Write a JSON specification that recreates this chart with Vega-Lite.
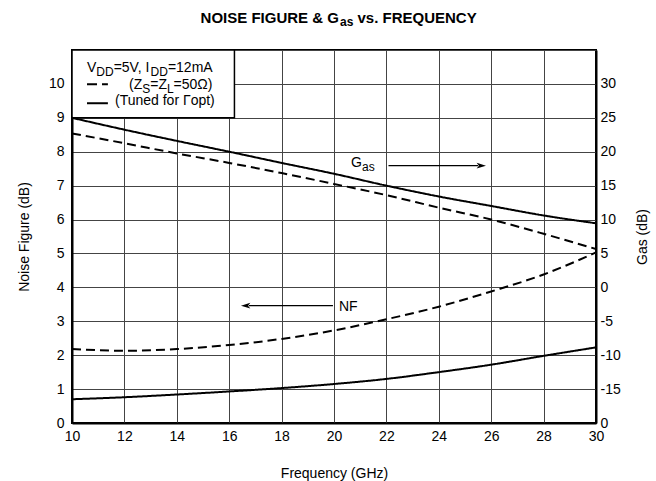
{
  "$schema": "https://vega.github.io/schema/vega-lite/v6.json",
  "width": 524,
  "height": 373,
  "autosize": {"type": "none"},
  "padding": {"left": 72, "top": 50, "right": 60, "bottom": 58},
  "config": {
    "font": "Liberation Sans",
    "view": {"stroke": "black", "strokeWidth": 2},
    "axis": {
      "labelFont": "Liberation Sans",
      "labelFontSize": 14,
      "labelColor": "black",
      "titleFont": "Liberation Sans",
      "titleFontSize": 14,
      "titleFontWeight": "normal",
      "titleColor": "black",
      "ticks": false,
      "domainColor": "black",
      "domainWidth": 2,
      "gridColor": "#444444",
      "gridWidth": 1,
      "gridOpacity": 1,
      "labelOverlap": false,
      "labelFlush": false,
      "labelBound": false
    }
  },
  "datasets": {
    "curves": [
      {"freq": 10, "value": 2.18, "curve": "NF", "cond": "50ohm"},
      {"freq": 12, "value": 2.13, "curve": "NF", "cond": "50ohm"},
      {"freq": 14, "value": 2.18, "curve": "NF", "cond": "50ohm"},
      {"freq": 16, "value": 2.3, "curve": "NF", "cond": "50ohm"},
      {"freq": 18, "value": 2.48, "curve": "NF", "cond": "50ohm"},
      {"freq": 20, "value": 2.73, "curve": "NF", "cond": "50ohm"},
      {"freq": 22, "value": 3.06, "curve": "NF", "cond": "50ohm"},
      {"freq": 24, "value": 3.43, "curve": "NF", "cond": "50ohm"},
      {"freq": 26, "value": 3.88, "curve": "NF", "cond": "50ohm"},
      {"freq": 28, "value": 4.38, "curve": "NF", "cond": "50ohm"},
      {"freq": 30, "value": 5.03, "curve": "NF", "cond": "50ohm"},
      {"freq": 10, "value": 0.7, "curve": "NF", "cond": "tuned"},
      {"freq": 12, "value": 0.76, "curve": "NF", "cond": "tuned"},
      {"freq": 14, "value": 0.84, "curve": "NF", "cond": "tuned"},
      {"freq": 16, "value": 0.93, "curve": "NF", "cond": "tuned"},
      {"freq": 18, "value": 1.03, "curve": "NF", "cond": "tuned"},
      {"freq": 20, "value": 1.15, "curve": "NF", "cond": "tuned"},
      {"freq": 22, "value": 1.3, "curve": "NF", "cond": "tuned"},
      {"freq": 24, "value": 1.5, "curve": "NF", "cond": "tuned"},
      {"freq": 26, "value": 1.72, "curve": "NF", "cond": "tuned"},
      {"freq": 28, "value": 1.98, "curve": "NF", "cond": "tuned"},
      {"freq": 30, "value": 2.23, "curve": "NF", "cond": "tuned"},
      {"freq": 10, "value": 25, "curve": "Gas", "cond": "tuned"},
      {"freq": 12, "value": 23.25, "curve": "Gas", "cond": "tuned"},
      {"freq": 14, "value": 21.6, "curve": "Gas", "cond": "tuned"},
      {"freq": 16, "value": 20, "curve": "Gas", "cond": "tuned"},
      {"freq": 18, "value": 18.35, "curve": "Gas", "cond": "tuned"},
      {"freq": 20, "value": 16.75, "curve": "Gas", "cond": "tuned"},
      {"freq": 22, "value": 15, "curve": "Gas", "cond": "tuned"},
      {"freq": 24, "value": 13.4, "curve": "Gas", "cond": "tuned"},
      {"freq": 26, "value": 12, "curve": "Gas", "cond": "tuned"},
      {"freq": 28, "value": 10.6, "curve": "Gas", "cond": "tuned"},
      {"freq": 30, "value": 9.45, "curve": "Gas", "cond": "tuned"},
      {"freq": 10, "value": 22.7, "curve": "Gas", "cond": "50ohm"},
      {"freq": 12, "value": 21.25, "curve": "Gas", "cond": "50ohm"},
      {"freq": 14, "value": 19.75, "curve": "Gas", "cond": "50ohm"},
      {"freq": 16, "value": 18.35, "curve": "Gas", "cond": "50ohm"},
      {"freq": 18, "value": 16.85, "curve": "Gas", "cond": "50ohm"},
      {"freq": 20, "value": 15.25, "curve": "Gas", "cond": "50ohm"},
      {"freq": 22, "value": 13.6, "curve": "Gas", "cond": "50ohm"},
      {"freq": 24, "value": 11.75, "curve": "Gas", "cond": "50ohm"},
      {"freq": 26, "value": 10, "curve": "Gas", "cond": "50ohm"},
      {"freq": 28, "value": 7.9, "curve": "Gas", "cond": "50ohm"},
      {"freq": 30, "value": 5.65, "curve": "Gas", "cond": "50ohm"}
    ],
    "notes": [
      {"t": "V", "f": 10.573, "v": 10.34, "k": "n"},
      {"t": "=5V, I", "f": 11.59, "v": 10.34, "k": "n"},
      {"t": "=12mA", "f": 13.66, "v": 10.34, "k": "n"},
      {"t": "(Z", "f": 12.176, "v": 9.855, "k": "n"},
      {"t": "=Z", "f": 12.985, "v": 9.855, "k": "n"},
      {"t": "=50Ω)", "f": 13.878, "v": 9.855, "k": "n"},
      {"t": "(Tuned for Γopt)", "f": 11.641, "v": 9.366, "k": "n"},
      {"t": "G", "f": 20.65, "v": 7.56, "k": "n"},
      {"t": "NF", "f": 20.19, "v": 3.3, "k": "n"},
      {"t": "DD", "f": 10.929, "v": 10.34, "k": "s"},
      {"t": "DD", "f": 13.0, "v": 10.34, "k": "s"},
      {"t": "S", "f": 12.679, "v": 9.855, "k": "s"},
      {"t": "L", "f": 13.622, "v": 9.855, "k": "s"},
      {"t": "as", "f": 21.07, "v": 7.56, "k": "s"},
      {"t": "NOISE FIGURE & G", "f": 14.908, "v": 11.8, "k": "T"},
      {"t": "vs. FREQUENCY", "f": 20.897, "v": 11.8, "k": "T"},
      {"t": "as", "f": 20.23, "v": 11.8, "k": "Ts"}
    ]
  },
  "layer": [
    {
      "layer": [
        {
          "data": {"name": "curves"},
          "transform": [{"filter": "datum.curve == 'NF'"}],
          "mark": {"type": "line", "interpolate": "monotone", "strokeWidth": 2, "color": "black"},
          "encoding": {
            "x": {"field": "freq", "type": "quantitative",
                  "scale": {"domain": [10, 30], "nice": false},
                  "axis": {"values": [10, 12, 14, 16, 18, 20, 22, 24, 26, 28, 30], "title": "Frequency (GHz)", "labelPadding": 6, "titlePadding": 23, "grid": true}},
            "y": {"field": "value", "type": "quantitative",
                  "scale": {"domain": [0, 11], "nice": false},
                  "axis": {"values": [0, 1, 2, 3, 4, 5, 6, 7, 8, 9, 10, 11], "title": "Noise Figure (dB)", "labelExpr": "datum.value == 11 ? '' : datum.label", "labelPadding": 8, "titlePadding": 17, "grid": true}},
            "strokeDash": {"field": "cond", "type": "nominal", "scale": {"domain": ["50ohm", "tuned"], "range": [[9, 5], [1, 0]]}, "legend": null},
            "detail": {"field": "cond"}
          }
        },
        {
          "data": {"values": [{}]},
          "mark": {"type": "rect", "fill": "white", "stroke": "black", "strokeWidth": 1.5},
          "encoding": {
            "x": {"datum": 10, "type": "quantitative", "axis": {"values": [10, 12, 14, 16, 18, 20, 22, 24, 26, 28, 30], "title": "Frequency (GHz)", "labelPadding": 6, "titlePadding": 23, "grid": true}},
            "x2": {"datum": 16.2},
            "y": {"datum": 9, "type": "quantitative", "axis": {"values": [0, 1, 2, 3, 4, 5, 6, 7, 8, 9, 10, 11], "title": "Noise Figure (dB)", "labelExpr": "datum.value == 11 ? '' : datum.label", "labelPadding": 8, "titlePadding": 17, "grid": true}},
            "y2": {"datum": 11}
          }
        },
        {
          "data": {"values": [{}]},
          "mark": {"type": "rule", "strokeWidth": 2, "color": "black", "strokeDash": [10, 5]},
          "encoding": {
            "x": {"datum": 10.573, "type": "quantitative", "axis": {"values": [10, 12, 14, 16, 18, 20, 22, 24, 26, 28, 30], "title": "Frequency (GHz)", "labelPadding": 6, "titlePadding": 23, "grid": true}},
            "x2": {"datum": 11.37},
            "y": {"datum": 9.99, "type": "quantitative", "axis": {"values": [0, 1, 2, 3, 4, 5, 6, 7, 8, 9, 10, 11], "title": "Noise Figure (dB)", "labelExpr": "datum.value == 11 ? '' : datum.label", "labelPadding": 8, "titlePadding": 17, "grid": true}}
          }
        },
        {
          "data": {"values": [{}]},
          "mark": {"type": "rule", "strokeWidth": 2, "color": "black"},
          "encoding": {
            "x": {"datum": 10.573, "type": "quantitative", "axis": {"values": [10, 12, 14, 16, 18, 20, 22, 24, 26, 28, 30], "title": "Frequency (GHz)", "labelPadding": 6, "titlePadding": 23, "grid": true}},
            "x2": {"datum": 11.37},
            "y": {"datum": 9.43, "type": "quantitative", "axis": {"values": [0, 1, 2, 3, 4, 5, 6, 7, 8, 9, 10, 11], "title": "Noise Figure (dB)", "labelExpr": "datum.value == 11 ? '' : datum.label", "labelPadding": 8, "titlePadding": 17, "grid": true}}
          }
        },
        {
          "data": {"values": [{}]},
          "mark": {"type": "rule", "strokeWidth": 1.2, "color": "black"},
          "encoding": {
            "x": {"datum": 22.08, "type": "quantitative", "axis": {"values": [10, 12, 14, 16, 18, 20, 22, 24, 26, 28, 30], "title": "Frequency (GHz)", "labelPadding": 6, "titlePadding": 23, "grid": true}},
            "x2": {"datum": 25.5},
            "y": {"datum": 7.59, "type": "quantitative", "axis": {"values": [0, 1, 2, 3, 4, 5, 6, 7, 8, 9, 10, 11], "title": "Noise Figure (dB)", "labelExpr": "datum.value == 11 ? '' : datum.label", "labelPadding": 8, "titlePadding": 17, "grid": true}}
          }
        },
        {
          "data": {"values": [{}]},
          "mark": {"type": "point", "shape": "M 0 0 L -1 -0.3 L -0.75 0 L -1 0.3 Z", "filled": true, "size": 350, "color": "black", "opacity": 1},
          "encoding": {
            "x": {"datum": 25.8, "type": "quantitative", "axis": {"values": [10, 12, 14, 16, 18, 20, 22, 24, 26, 28, 30], "title": "Frequency (GHz)", "labelPadding": 6, "titlePadding": 23, "grid": true}},
            "y": {"datum": 7.59, "type": "quantitative", "axis": {"values": [0, 1, 2, 3, 4, 5, 6, 7, 8, 9, 10, 11], "title": "Noise Figure (dB)", "labelExpr": "datum.value == 11 ? '' : datum.label", "labelPadding": 8, "titlePadding": 17, "grid": true}}
          }
        },
        {
          "data": {"values": [{}]},
          "mark": {"type": "rule", "strokeWidth": 1.2, "color": "black"},
          "encoding": {
            "x": {"datum": 16.75, "type": "quantitative", "axis": {"values": [10, 12, 14, 16, 18, 20, 22, 24, 26, 28, 30], "title": "Frequency (GHz)", "labelPadding": 6, "titlePadding": 23, "grid": true}},
            "x2": {"datum": 19.96},
            "y": {"datum": 3.46, "type": "quantitative", "axis": {"values": [0, 1, 2, 3, 4, 5, 6, 7, 8, 9, 10, 11], "title": "Noise Figure (dB)", "labelExpr": "datum.value == 11 ? '' : datum.label", "labelPadding": 8, "titlePadding": 17, "grid": true}}
          }
        },
        {
          "data": {"values": [{}]},
          "mark": {"type": "point", "shape": "M 0 0 L 1 -0.3 L 0.75 0 L 1 0.3 Z", "filled": true, "size": 350, "color": "black", "opacity": 1},
          "encoding": {
            "x": {"datum": 16.45, "type": "quantitative", "axis": {"values": [10, 12, 14, 16, 18, 20, 22, 24, 26, 28, 30], "title": "Frequency (GHz)", "labelPadding": 6, "titlePadding": 23, "grid": true}},
            "y": {"datum": 3.46, "type": "quantitative", "axis": {"values": [0, 1, 2, 3, 4, 5, 6, 7, 8, 9, 10, 11], "title": "Noise Figure (dB)", "labelExpr": "datum.value == 11 ? '' : datum.label", "labelPadding": 8, "titlePadding": 17, "grid": true}}
          }
        },
        {
          "data": {"name": "notes"},
          "transform": [{"filter": "datum.k == 'n'"}],
          "mark": {"type": "text", "align": "left", "baseline": "alphabetic", "fontSize": 14, "color": "black"},
          "encoding": {
            "x": {"field": "f", "type": "quantitative", "axis": {"values": [10, 12, 14, 16, 18, 20, 22, 24, 26, 28, 30], "title": "Frequency (GHz)", "labelPadding": 6, "titlePadding": 23, "grid": true}},
            "y": {"field": "v", "type": "quantitative", "axis": {"values": [0, 1, 2, 3, 4, 5, 6, 7, 8, 9, 10, 11], "title": "Noise Figure (dB)", "labelExpr": "datum.value == 11 ? '' : datum.label", "labelPadding": 8, "titlePadding": 17, "grid": true}},
            "text": {"field": "t"}
          }
        },
        {
          "data": {"name": "notes"},
          "transform": [{"filter": "datum.k == 's'"}],
          "mark": {"type": "text", "align": "left", "baseline": "alphabetic", "fontSize": 12, "dy": 4, "color": "black"},
          "encoding": {
            "x": {"field": "f", "type": "quantitative", "axis": {"values": [10, 12, 14, 16, 18, 20, 22, 24, 26, 28, 30], "title": "Frequency (GHz)", "labelPadding": 6, "titlePadding": 23, "grid": true}},
            "y": {"field": "v", "type": "quantitative", "axis": {"values": [0, 1, 2, 3, 4, 5, 6, 7, 8, 9, 10, 11], "title": "Noise Figure (dB)", "labelExpr": "datum.value == 11 ? '' : datum.label", "labelPadding": 8, "titlePadding": 17, "grid": true}},
            "text": {"field": "t"}
          }
        },
        {
          "data": {"name": "notes"},
          "transform": [{"filter": "datum.k == 'T'"}],
          "mark": {"type": "text", "align": "left", "baseline": "alphabetic", "fontSize": 15, "fontWeight": "bold", "color": "black"},
          "encoding": {
            "x": {"field": "f", "type": "quantitative", "axis": {"values": [10, 12, 14, 16, 18, 20, 22, 24, 26, 28, 30], "title": "Frequency (GHz)", "labelPadding": 6, "titlePadding": 23, "grid": true}},
            "y": {"field": "v", "type": "quantitative", "axis": {"values": [0, 1, 2, 3, 4, 5, 6, 7, 8, 9, 10, 11], "title": "Noise Figure (dB)", "labelExpr": "datum.value == 11 ? '' : datum.label", "labelPadding": 8, "titlePadding": 17, "grid": true}},
            "text": {"field": "t"}
          }
        },
        {
          "data": {"name": "notes"},
          "transform": [{"filter": "datum.k == 'Ts'"}],
          "mark": {"type": "text", "align": "left", "baseline": "alphabetic", "fontSize": 12, "fontWeight": "bold", "dy": 3, "color": "black"},
          "encoding": {
            "x": {"field": "f", "type": "quantitative", "axis": {"values": [10, 12, 14, 16, 18, 20, 22, 24, 26, 28, 30], "title": "Frequency (GHz)", "labelPadding": 6, "titlePadding": 23, "grid": true}},
            "y": {"field": "v", "type": "quantitative", "axis": {"values": [0, 1, 2, 3, 4, 5, 6, 7, 8, 9, 10, 11], "title": "Noise Figure (dB)", "labelExpr": "datum.value == 11 ? '' : datum.label", "labelPadding": 8, "titlePadding": 17, "grid": true}},
            "text": {"field": "t"}
          }
        }
      ]
    },
    {
      "data": {"name": "curves"},
      "transform": [{"filter": "datum.curve == 'Gas'"}],
      "mark": {"type": "line", "interpolate": "monotone", "strokeWidth": 2, "color": "black"},
      "encoding": {
        "x": {"field": "freq", "type": "quantitative", "axis": {"values": [10, 12, 14, 16, 18, 20, 22, 24, 26, 28, 30], "title": "Frequency (GHz)", "labelPadding": 6, "titlePadding": 23, "grid": true}},
        "y": {"field": "value", "type": "quantitative",
              "scale": {"domain": [-20, 35], "nice": false},
              "axis": {"orient": "right", "values": [-20, -15, -10, -5, 0, 5, 10, 15, 20, 25, 30, 35], "labelExpr": "datum.value == -20 ? '0' : datum.value == 35 ? '' : toString(datum.value)", "title": "Gas (dB)", "titleAngle": 270, "titleBaseline": "top", "labelPadding": 4, "titlePadding": 15, "grid": false}},
        "strokeDash": {"field": "cond", "type": "nominal", "scale": {"domain": ["50ohm", "tuned"], "range": [[9, 5], [1, 0]]}, "legend": null},
        "detail": {"field": "cond"}
      }
    }
  ],
  "resolve": {"scale": {"y": "independent"}}
}
